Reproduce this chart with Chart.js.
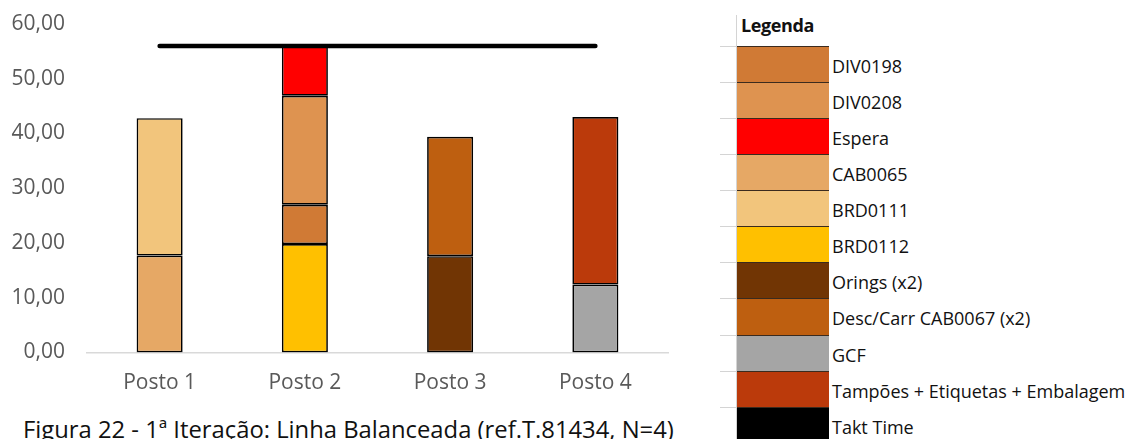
<!DOCTYPE html>
<html lang="pt">
<head>
<meta charset="utf-8">
<script src="https://cdn.jsdelivr.net/npm/chart.js@4.4.1/dist/chart.umd.min.js"></script>
<style>
  html, body { margin: 0; padding: 0; background: #fff; }
  body { width: 1137px; height: 439px; overflow: hidden; position: relative; font-family: "Open Sans", sans-serif; }
  #chart { position: absolute; left: 0; top: 0; }
  #caption { position: absolute; left: 23px; top: 413px; font-size: 23.8px; color: #111; white-space: nowrap; letter-spacing: 0; }
  #legend { position: absolute; left: 720px; top: 0; width: 417px; height: 439px; }
  #legend .head { position: absolute; left: 21px; top: 13px; font-weight: 700; font-size: 18px; color: #111; letter-spacing: -0.4px; }
  #legend .grid-v { position: absolute; left: 16px; top: 15px; width: 1px; height: 430px; background: #d4d4d4; }
  #legend .grid-h { position: absolute; left: 0; width: 16px; height: 1px; background: #d4d4d4; }
  #legend .sw { position: absolute; left: 17px; width: 92px; box-sizing: border-box; border-top: 1px solid #3b2b1e; }
  #legend .lbl { position: absolute; left: 112px; font-size: 18px; color: #111; white-space: nowrap; letter-spacing: 0; line-height: 1; }
</style>
</head>
<body>
<canvas id="chart" width="700" height="400"></canvas>
<div id="legend"></div>
<div id="caption">Figura 22 - 1ª Iteração: Linha Balanceada (ref.T.81434, N=4)</div>
<script>
// Workstations on the line
const categories = ['Posto 1', 'Posto 2', 'Posto 3', 'Posto 4'];

// Operation times per workstation (seconds), stacked bottom to top
const brd0112   = [null, 19.8, null, null];
const div0198   = [null, 7.2, null, null];
const div0208   = [null, 19.9, null, null];
const espera    = [null, 9.1, null, null];
const cab0065   = [17.7, null, null, null];
const brd0111   = [25.1, null, null, null];
const orings    = [null, null, 17.6, null];
const descCarr  = [null, null, 21.8, null];
const gcf       = [null, null, null, 12.4];
const tampoes   = [null, null, null, 30.6];

// Takt time reference line
const taktTime  = [56, 56, 56, 56];

// Y axis tick values
const yTicks = [0, 10, 20, 30, 40, 50, 60];

// Series: name, values, colour (stacking order)
const series = [
  { name: 'BRD0112', data: brd0112, color: '#FFC000' },
  { name: 'DIV0198', data: div0198, color: '#D07A35' },
  { name: 'DIV0208', data: div0208, color: '#DE9350' },
  { name: 'Espera', data: espera, color: '#FF0000' },
  { name: 'CAB0065', data: cab0065, color: '#E6A865' },
  { name: 'BRD0111', data: brd0111, color: '#F2C57C' },
  { name: 'Orings (x2)', data: orings, color: '#713504' },
  { name: 'Desc/Carr CAB0067 (x2)', data: descCarr, color: '#BE5F10' },
  { name: 'GCF', data: gcf, color: '#A5A5A5' },
  { name: 'Tampões + Etiquetas + Embalagem', data: tampoes, color: '#BB3A0B' }
];

// Order in which the legend lists the series
const legendOrder = ['DIV0198', 'DIV0208', 'Espera', 'CAB0065', 'BRD0111', 'BRD0112',
  'Orings (x2)', 'Desc/Carr CAB0067 (x2)', 'GCF', 'Tampões + Etiquetas + Embalagem', 'Takt Time'];

const fmt = v => v.toFixed(2).replace('.', ',');

const datasets = series.map(s => ({
  type: 'bar',
  label: s.name,
  data: s.data,
  backgroundColor: s.color,
  borderColor: '#000',
  borderWidth: 1.7,
  borderSkipped: false,
  categoryPercentage: 1,
  barPercentage: 0.317,
  stack: 'tempos',
  order: 1
}));

datasets.push({
  type: 'line',
  label: 'Takt Time',
  data: taktTime,
  borderColor: '#000',
  borderWidth: 4.5,
  borderCapStyle: 'round',
  pointRadius: 0,
  fill: false,
  stack: 'takt',
  order: 0
});

const tickFont = { family: 'Open Sans', size: 21 };

new Chart(document.getElementById('chart'), {
  type: 'bar',
  data: { labels: categories, datasets },
  options: {
    responsive: false,
    animation: false,
    devicePixelRatio: 1,
    layout: { padding: { top: 24, right: 32, left: 0, bottom: 0 } },
    plugins: { legend: { display: false }, tooltip: { enabled: false } },
    scales: {
      x: {
        stacked: true,
        grid: { display: false, drawTicks: false },
        border: { display: true, color: '#d9d9d9', width: 1.5 },
        ticks: { color: '#595959', font: tickFont, padding: 18 },
        afterFit: s => { s.height = 47.5; }
      },
      y: {
        stacked: true,
        min: 0,
        max: 60,
        afterBuildTicks: s => { s.ticks = yTicks.map(v => ({ value: v })); },
        grid: { display: false, drawTicks: false },
        border: { display: false },
        ticks: { color: '#595959', font: tickFont, padding: 22, callback: v => fmt(v) },
        afterFit: s => { s.width = 87; s.paddingTop = 0; s.paddingBottom = 0; }
      }
    }
  }
});

// Legend table at the right
const legend = document.getElementById('legend');
const colorOf = name => name === 'Takt Time' ? '#000' : series.find(s => s.name === name).color;
const rowTop0 = 45.7, rowH = 36.1;
legend.innerHTML = '<div class="grid-v"></div><div class="head">Legenda</div>';
legendOrder.forEach((name, i) => {
  const top = rowTop0 + i * rowH;
  const h = document.createElement('div');
  h.className = 'grid-h';
  h.style.top = top + 'px';
  legend.appendChild(h);
  const sw = document.createElement('div');
  sw.className = 'sw';
  sw.style.top = top + 'px';
  sw.style.height = (rowH + 1) + 'px';
  sw.style.background = colorOf(name);
  legend.appendChild(sw);
  const lb = document.createElement('div');
  lb.className = 'lbl';
  lb.style.top = (top + 11) + 'px';
  lb.textContent = name;
  legend.appendChild(lb);
});
</script>
</body>
</html>
